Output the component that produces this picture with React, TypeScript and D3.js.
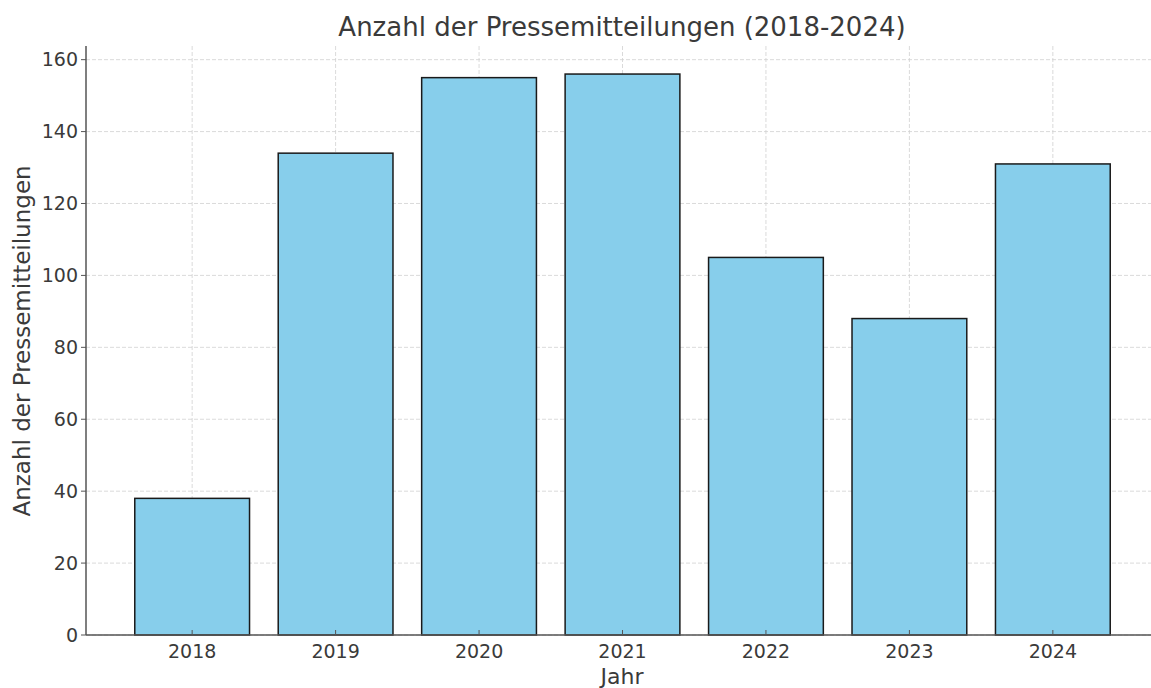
import React from 'react'
import * as d3 from 'd3'

const years = ['2018', '2019', '2020', '2021', '2022', '2023', '2024']
const counts = [38, 134, 155, 156, 105, 88, 131]
const yTicks = [0, 20, 40, 60, 80, 100, 120, 140, 160]

const width = 1151
const height = 688
const margin = { top: 46, right: -8, bottom: 53, left: 86 }
const font = 'DejaVu Sans, sans-serif'
const textColor = '#3a3a3a'

const App: React.FC = () => {
  const x = d3.scaleBand()
    .domain(years)
    .range([margin.left, width - margin.right])
    .paddingInner(0.2)
    .paddingOuter(0.34)

  const yMax = (d3.max(counts) || 0) * 1.05
  const y = d3.scaleLinear()
    .domain([0, yMax])
    .range([height - margin.bottom, margin.top])

  const x0 = margin.left
  const x1 = width - margin.right
  const y0 = y(0)

  return (
    <svg width={width} height={height} style={{ position: 'absolute', left: 0, top: 0, background: '#fff' }}>
      {/* grid behind bars */}
      <g stroke="#d0d0d0" strokeWidth={0.8} strokeDasharray="4,2">
        {yTicks.map(t => (
          <line key={t} x1={x0} x2={x1} y1={y(t)} y2={y(t)} />
        ))}
        {years.map(yr => {
          const cx = (x(yr) || 0) + x.bandwidth() / 2
          return <line key={yr} x1={cx} x2={cx} y1={margin.top} y2={y0} />
        })}
      </g>

      {years.map((yr, i) => (
        <rect
          key={yr}
          x={x(yr)}
          y={y(counts[i])}
          width={x.bandwidth()}
          height={y0 - y(counts[i])}
          fill="#87CEEB"
          stroke="#1a1a1a"
          strokeWidth={1.5}
        />
      ))}

      {/* spines */}
      <line x1={x0} x2={x0} y1={margin.top} y2={y0} stroke="#555" strokeWidth={1.5} />
      <line x1={x0} x2={x1} y1={y0} y2={y0} stroke="#555" strokeWidth={1.5} />

      {/* y ticks */}
      {yTicks.map(t => (
        <g key={t} transform={`translate(${x0},${y(t)})`}>
          <line x1={-5} x2={0} stroke="#555" strokeWidth={1} />
          <text x={-8} dy="0.35em" textAnchor="end" fontFamily={font} fontSize={19} fill={textColor}>{t}</text>
        </g>
      ))}

      {/* x ticks */}
      {years.map(yr => {
        const cx = (x(yr) || 0) + x.bandwidth() / 2
        return (
          <g key={yr} transform={`translate(${cx},${y0})`}>
            <line y1={0} y2={-5} stroke="#555" strokeWidth={1} />
            <text y={23} textAnchor="middle" fontFamily={font} fontSize={19} fill={textColor}>{yr}</text>
          </g>
        )
      })}

      <text x={622} y={36} textAnchor="middle" fontFamily={font} fontSize={26} fill={textColor}>
        Anzahl der Pressemitteilungen (2018-2024)
      </text>
      <text x={622} y={684} textAnchor="middle" fontFamily={font} fontSize={22} fill={textColor}>Jahr</text>
      <text
        transform={`translate(30,${341}) rotate(-90)`}
        textAnchor="middle"
        fontFamily={font}
        fontSize={23}
        fill={textColor}
      >
        Anzahl der Pressemitteilungen
      </text>
    </svg>
  )
}

export default App
